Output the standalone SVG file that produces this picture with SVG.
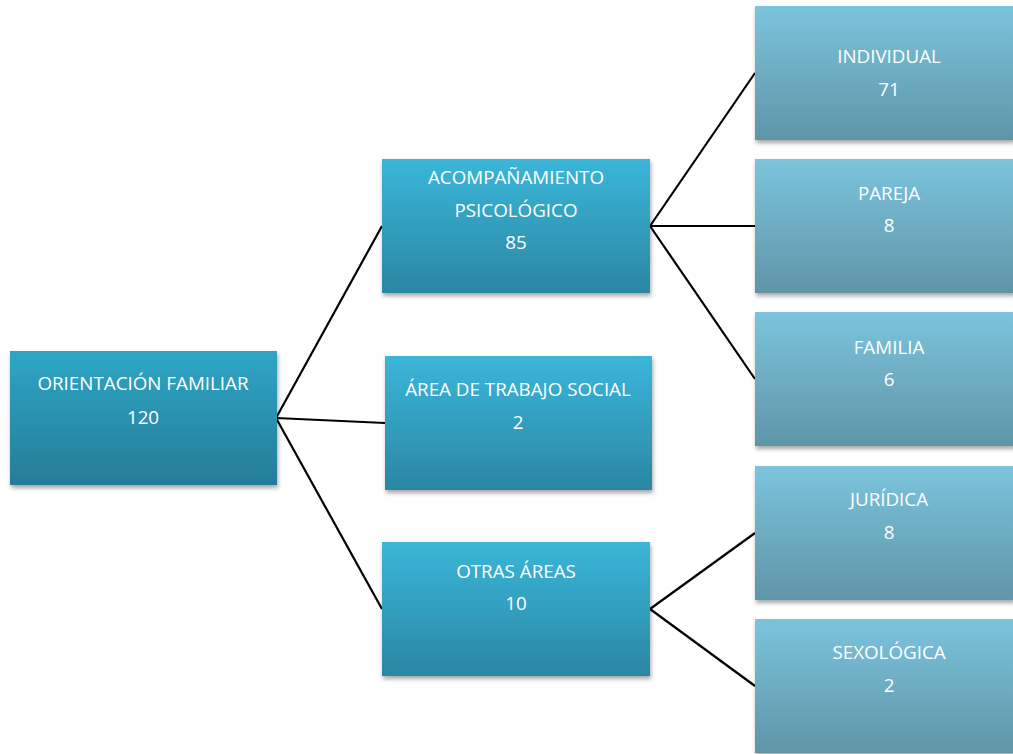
<svg xmlns="http://www.w3.org/2000/svg" width="1013" height="754" viewBox="0 0 1013 754">
<defs>
<linearGradient id="g1" x1="0" y1="0" x2="0" y2="1"><stop offset="0" stop-color="#2fa5c6"/><stop offset="1" stop-color="#247d97"/></linearGradient>
<linearGradient id="g2" x1="0" y1="0" x2="0" y2="1"><stop offset="0" stop-color="#3bb6d9"/><stop offset="1" stop-color="#2a87a3"/></linearGradient>
<linearGradient id="g3" x1="0" y1="0" x2="0" y2="1"><stop offset="0" stop-color="#7bc4dd"/><stop offset="1" stop-color="#5f95a7"/></linearGradient>
<filter id="sh" x="-5%" y="-5%" width="115%" height="120%"><feDropShadow dx="1" dy="3" stdDeviation="2" flood-color="#000" flood-opacity="0.35"/></filter>
</defs>
<style>
text{font-family:"Open Sans","Liberation Sans",sans-serif;font-size:18.8px;fill:#ffffff;text-anchor:middle}
.c line{stroke:#000;stroke-width:2.2;fill:none}
rect{filter:url(#sh)}
</style>
<rect width="1013" height="754" fill="#ffffff" style="filter:none"/>
<g class="c" id="connectors">
<line x1="276" y1="418" x2="382" y2="226"/>
<line x1="276" y1="418" x2="385" y2="423"/>
<line x1="276" y1="418" x2="382" y2="609"/>
<line x1="650" y1="226" x2="755" y2="73"/>
<line x1="650" y1="226" x2="755" y2="226"/>
<line x1="650" y1="226" x2="755" y2="379"/>
<line x1="650" y1="609" x2="755" y2="533"/>
<line x1="650" y1="609" x2="755" y2="686"/>
</g>
<g id="root"><rect x="10" y="351" width="267" height="134" fill="url(#g1)"/><text x="143" y="390">ORIENTACIÓN FAMILIAR</text><text x="143" y="424">120</text></g>
<g id="acomp"><rect x="382" y="159" width="268" height="134" fill="url(#g2)"/><text x="516" y="184">ACOMPAÑAMIENTO</text><text x="516" y="217">PSICOLÓGICO</text><text x="516" y="249">85</text></g>
<g id="area"><rect x="385" y="356" width="267" height="134" fill="url(#g2)"/><text x="518" y="396">ÁREA DE TRABAJO SOCIAL</text><text x="518" y="429">2</text></g>
<g id="otras"><rect x="382" y="542" width="268" height="134" fill="url(#g2)"/><text x="516" y="578">OTRAS ÁREAS</text><text x="516" y="610">10</text></g>
<g id="individual"><rect x="755" y="6" width="260" height="134" fill="url(#g3)"/><text x="889" y="63">INDIVIDUAL</text><text x="889" y="96">71</text></g>
<g id="pareja"><rect x="755" y="159" width="260" height="134" fill="url(#g3)"/><text x="889" y="200">PAREJA</text><text x="889" y="232">8</text></g>
<g id="familia"><rect x="755" y="312" width="260" height="134" fill="url(#g3)"/><text x="889" y="354">FAMILIA</text><text x="889" y="386">6</text></g>
<g id="juridica"><rect x="755" y="466" width="260" height="134" fill="url(#g3)"/><text x="889" y="506">JURÍDICA</text><text x="889" y="539">8</text></g>
<g id="sexologica"><rect x="755" y="619" width="260" height="134" fill="url(#g3)"/><text x="889" y="659">SEXOLÓGICA</text><text x="889" y="692">2</text></g>
</svg>
